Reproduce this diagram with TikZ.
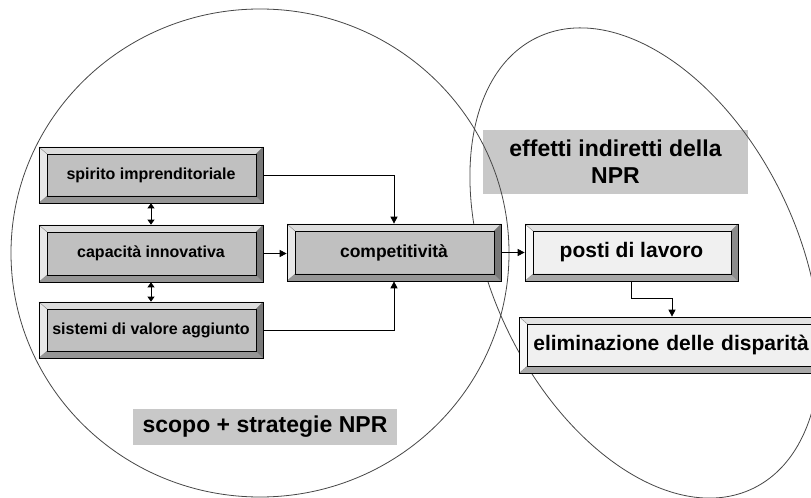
\documentclass[tikz,border=0pt]{standalone}
\usepackage{fontspec}
\setmainfont{Liberation Sans}
\usetikzlibrary{arrows.meta}

% colours of the bevelled boxes (dark and light variants)
\definecolor{faceDark}{RGB}{192,192,192}
\definecolor{bevTopD}{RGB}{221,221,221}
\definecolor{bevLeftD}{RGB}{232,232,232}
\definecolor{bevRightD}{RGB}{120,120,120}
\definecolor{bevBotD}{RGB}{150,150,150}
\definecolor{faceLight}{RGB}{240,240,240}
\definecolor{bevTopL}{RGB}{226,226,226}
\definecolor{bevLeftL}{RGB}{248,248,248}
\definecolor{bevRightL}{RGB}{140,140,140}
\definecolor{bevBotL}{RGB}{168,168,168}
\definecolor{tagGray}{RGB}{200,200,200}
\definecolor{ringGray}{RGB}{70,70,70}

% bevel faces: #1 top, #2 right, #3 bottom, #4 left
\newcommand\bevelfaces[4]{%
  \path (path picture bounding box.north west) coordinate (bo1)
        (path picture bounding box.north east) coordinate (bo2)
        (path picture bounding box.south east) coordinate (bo3)
        (path picture bounding box.south west) coordinate (bo4);
  \path ([shift={(8bp,-7bp)}]bo1) coordinate (bi1)
        ([shift={(-7bp,-7bp)}]bo2) coordinate (bi2)
        ([shift={(-7bp,7bp)}]bo3) coordinate (bi3)
        ([shift={(8bp,7bp)}]bo4) coordinate (bi4);
  \fill[#1] (bo1) -- (bo2) -- (bi2) -- (bi1) -- cycle;
  \fill[#2] (bo2) -- (bo3) -- (bi3) -- (bi2) -- cycle;
  \fill[#3] (bo3) -- (bo4) -- (bi4) -- (bi3) -- cycle;
  \fill[#4] (bo4) -- (bo1) -- (bi1) -- (bi4) -- cycle;
  \draw[line width=0.3bp, black!55] (bo1) -- (bi1) (bo2) -- (bi2) (bo3) -- (bi3) (bo4) -- (bi4);
  \draw[line width=0.6bp] (bi1) -- (bi2) -- (bi3) -- (bi4) -- cycle;
}

\tikzset{
  boxbase/.style={rectangle, draw=black, line width=0.7bp, inner sep=0pt,
    font=\fontsize{16bp}{19bp}\selectfont\bfseries},
  darkbox/.style={boxbase, fill=faceDark,
    path picture={\bevelfaces{bevTopD}{bevRightD}{bevBotD}{bevLeftD}}},
  lightbox/.style={boxbase, fill=faceLight,
    font=\fontsize{21bp}{25bp}\selectfont\bfseries,
    path picture={\bevelfaces{bevTopL}{bevRightL}{bevBotL}{bevLeftL}}},
  tag/.style={fill=tagGray, inner sep=0pt, align=center,
    font=\fontsize{23bp}{27bp}\selectfont\bfseries},
  link/.style={line width=0.8bp, -{Triangle[length=7bp,width=7bp]}},
  twoway/.style={line width=0.8bp,
    {Triangle[length=5bp,width=7bp]}-{Triangle[length=5bp,width=7bp]}},
  ring/.style={draw=ringGray, line width=0.8bp},
}

\begin{document}
\begin{tikzpicture}[x=1bp, y=-1bp]
  \useasboundingbox (0,0) rectangle (811,498);
  \path[fill=white] (0,0) rectangle (811,498);

  % captions on grey ground
  \node[tag, minimum width=265bp, minimum height=64bp] (effects) at (615.5,162)
    {effetti indiretti della\\NPR};
  \node[tag, minimum width=264bp, minimum height=36bp] (scope) at (265,427)
    {scopo + strategie NPR};

  % the two overlapping areas
  \draw[ring] (260,253) ellipse (249 and 244);
  \draw[ring, rotate around={115.5:(645,263)}] (645,263) ellipse (250 and 153);

  % factors
  \node[darkbox, minimum width=224bp, minimum height=56bp] (spirit) at (151,175)
    {spirito imprenditoriale};
  \node[darkbox, minimum width=224bp, minimum height=57bp] (innov) at (151,253.5)
    {capacità innovativa};
  \node[darkbox, minimum width=224bp, minimum height=56bp] (value) at (151,330)
    {sistemi di valore aggiunto};
  \node[darkbox, minimum width=214bp, minimum height=57bp,
    font=\fontsize{17.5bp}{21bp}\selectfont\bfseries] (compet) at (394,252.5)
    {competitività};

  % indirect effects
  \node[lightbox, minimum width=213bp, minimum height=57bp] (jobs) at (631.5,252.5)
    {posti di lavoro};
  \node[lightbox, anchor=west, minimum height=56bp, text width=300bp, align=left,
    inner xsep=14bp] (gaps) at (519,345) {eliminazione delle disparità};

  % connectors
  \draw[link] (spirit.east) -| (compet.north);
  \draw[link] (value.east) -| (compet.south);
  \draw[link] (innov.east) -- (innov.east -| compet.west);
  \draw[twoway] (spirit.south) -- (innov.north);
  \draw[twoway] (innov.south) -- (value.north);
  \draw[link] (compet.east) -- (jobs.west);
  \draw[link] (jobs.south) -- ++(0,17) -| ([xshift=153bp]gaps.north west);
\end{tikzpicture}
\end{document}
